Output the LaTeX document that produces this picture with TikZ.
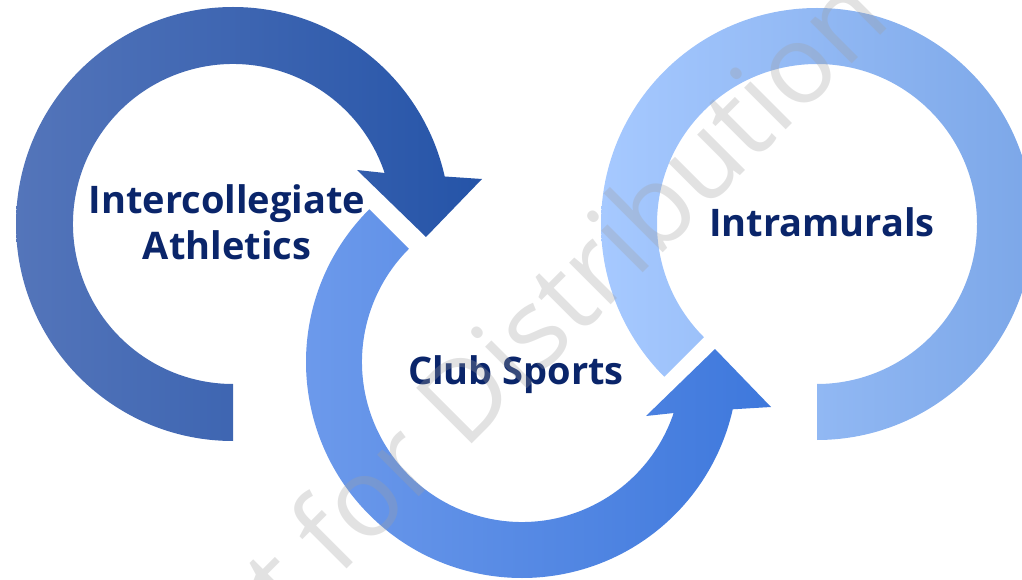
\documentclass[tikz,border=0pt]{standalone}
\usepackage{fontspec}
\usepackage{tikz}
\setmainfont{Open Sans}
\usetikzlibrary{calc}
\definecolor{navy}{RGB}{10,37,106}
\definecolor{aleft}{RGB}{84,117,186}
\definecolor{aright}{RGB}{37,84,168}
\definecolor{bleft}{RGB}{110,155,236}
\definecolor{bright}{RGB}{62,120,220}
\definecolor{cleft}{RGB}{166,201,255}
\definecolor{cright}{RGB}{124,167,232}
\definecolor{wmgray}{RGB}{160,160,160}

\begin{document}
\begin{tikzpicture}[x=0.5pt,y=0.5pt,
    looplabel/.style={font=\fontsize{19}{23.5}\selectfont\bfseries, text=navy, align=center, inner sep=0pt}]
      \useasboundingbox (0,0) rectangle (1022,579);
      \clip (0,0) rectangle (1022,579);
      % left loop, arrow into the middle one
      \shade[left color=aleft, right color=aright, shift={(233,355)}]
        (270:217) arc[start angle=270, end angle=12.65, radius=217]
        -- (249,45) -- (193,-13) -- (124,54)
        -- (18.6:160) arc[start angle=18.6, end angle=270, radius=160] -- cycle;
      % middle loop, arrow up into the right one
      \shade[left color=bleft, right color=bright, shift={(522,217)}]
        (135:216) arc[start angle=135, end angle=347.35, radius=216]
        -- (249,-45) -- (193,13) -- (124,-54)
        -- (341.4:160) arc[start angle=341.4, end angle=135, radius=160] -- cycle;
      % right loop
      \shade[left color=cleft, right color=cright, shift={(817,355)}]
        (270:216) arc[start angle=-90, end angle=225, radius=216]
        -- (225:160) arc[start angle=225, end angle=-90, radius=160] -- cycle;
      \node[looplabel, anchor=base] (inter) at (227,319) {Intercollegiate\\Athletics};
      \node[looplabel, anchor=base] (club) at (516,195) {Club Sports};
      \node[looplabel, anchor=base] (intra) at (822,342) {Intramurals};
      \node[rotate=45, anchor=base east, inner sep=0pt, text=wmgray, text opacity=0.3,
        font=\fontsize{55}{66}\selectfont] (mark) at (894,557) {Not for Distribution};
\end{tikzpicture}
\end{document}
